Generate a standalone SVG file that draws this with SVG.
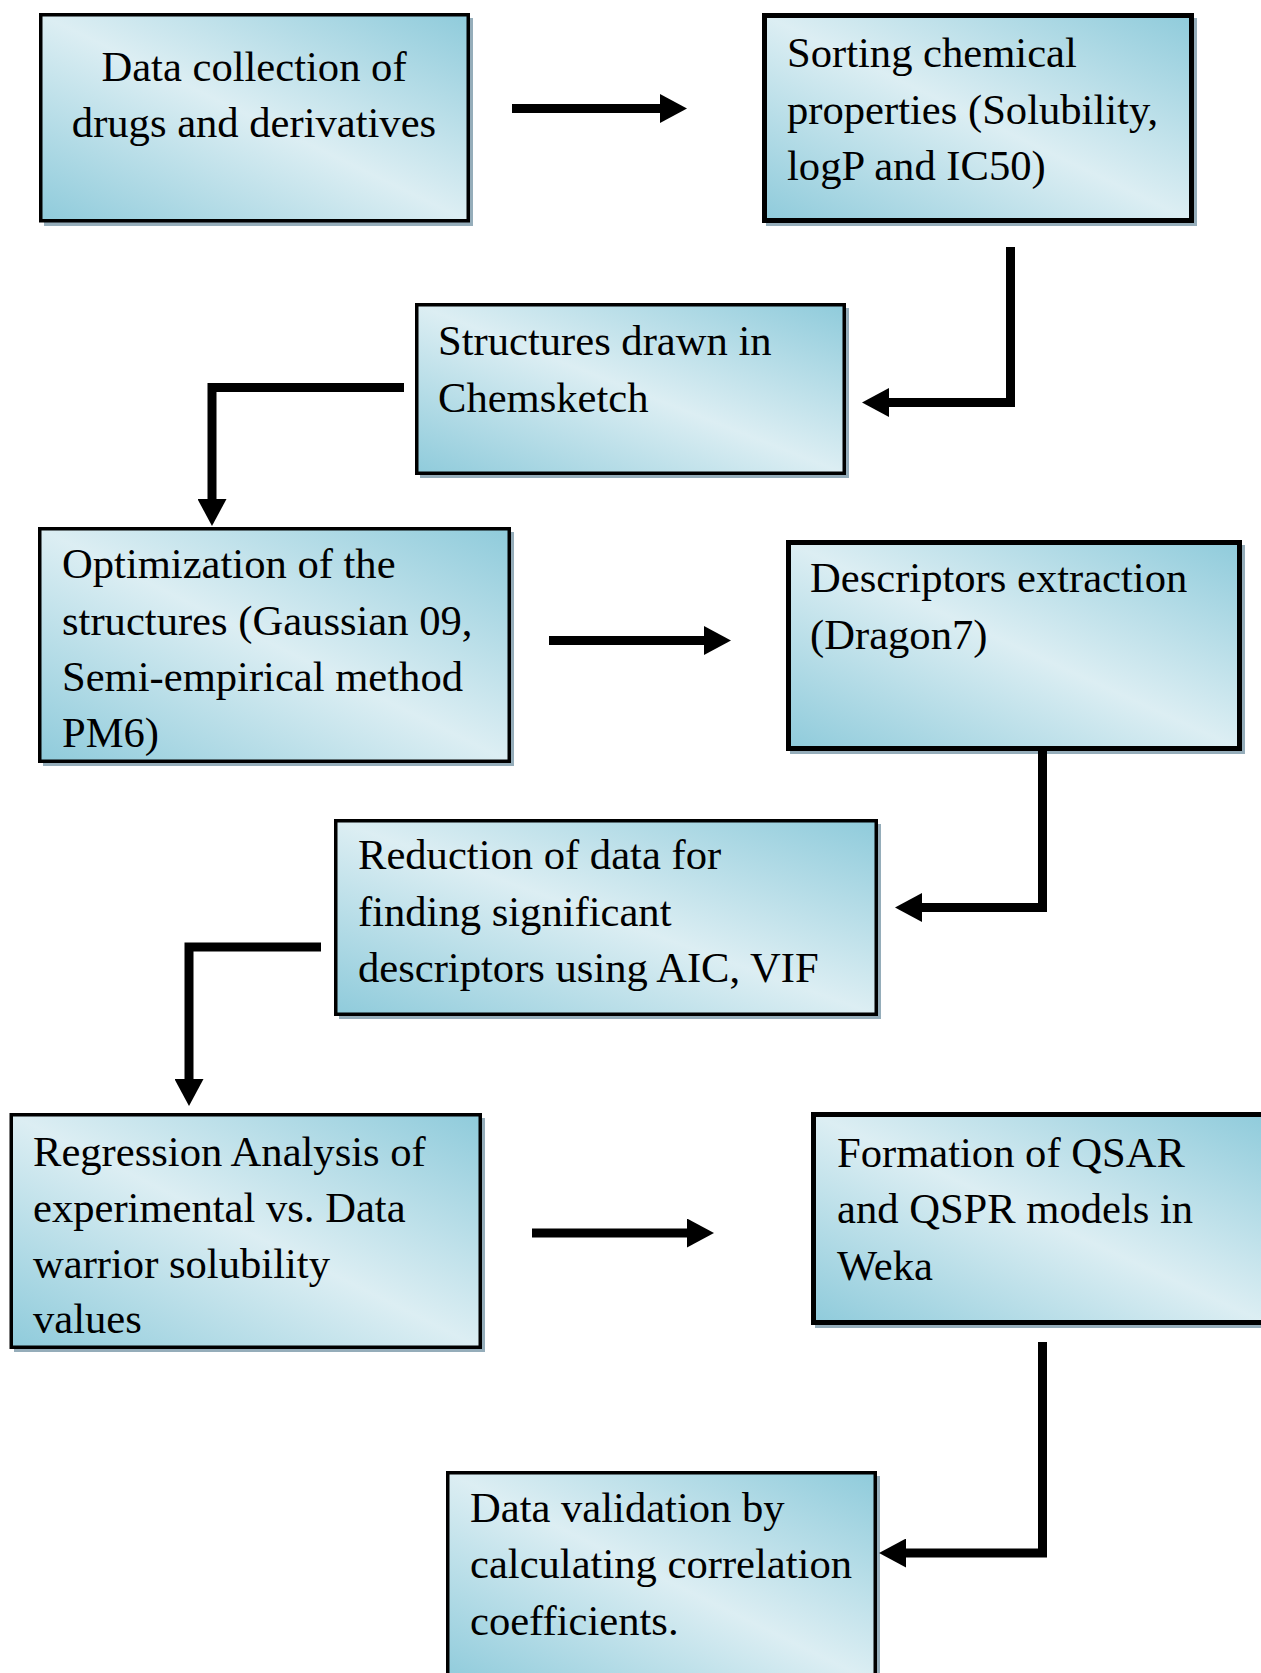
<svg xmlns="http://www.w3.org/2000/svg" width="1261" height="1673" viewBox="0 0 1261 1673">
<defs>
<linearGradient id="g" x1="1" y1="0" x2="0" y2="1">
<stop offset="0" stop-color="#8FCBDB"/>
<stop offset="0.5" stop-color="#DCEEF3"/>
<stop offset="1" stop-color="#8FCBDB"/>
</linearGradient>
<marker id="ah" markerUnits="userSpaceOnUse" markerWidth="28" markerHeight="29" viewBox="0 0 28 29" refX="1" refY="14.5" orient="auto">
<path d="M0,0 L27,14.5 L0,29 Z" fill="#000"/>
</marker>
</defs>
<style>
.box{fill:url(#g);stroke:#000;stroke-width:3.5}
.thick{stroke-width:5}
.sh{fill:#95ADBA}
.t{font-family:"Liberation Serif","Times New Roman",serif;font-size:42.6px;fill:#000}
.c{fill:none;stroke:#000;stroke-width:9;stroke-linejoin:miter;stroke-linecap:butt;marker-end:url(#ah)}
</style>
<rect width="1261" height="1673" fill="#fff"/>
<g id="n1">
<rect class="sh" x="44" y="18" width="429" height="208"/>
<rect class="box" x="40.75" y="14.75" width="427.5" height="206"/>
<text class="t" x="254" y="81" text-anchor="middle">Data collection of</text>
<text class="t" x="254" y="137" text-anchor="middle">drugs and derivatives</text>
</g>
<g id="n2">
<rect class="sh" x="766" y="18" width="431" height="208"/>
<rect class="box thick" x="764.5" y="15.5" width="427" height="205"/>
<text class="t" x="787" y="67">Sorting chemical</text>
<text class="t" x="787" y="124">properties (Solubility,</text>
<text class="t" x="787" y="180">logP and IC50)</text>
</g>
<g id="n3">
<rect class="sh" x="420" y="308" width="429" height="170"/>
<rect class="box" x="416.75" y="304.75" width="427.5" height="168.5"/>
<text class="t" x="438" y="355">Structures drawn in</text>
<text class="t" x="438" y="412">Chemsketch</text>
</g>
<g id="n4">
<rect class="sh" x="43" y="532" width="471" height="234"/>
<rect class="box" x="39.75" y="528.75" width="469.5" height="232.5"/>
<text class="t" x="62" y="578">Optimization of the</text>
<text class="t" x="62" y="635">structures (Gaussian 09,</text>
<text class="t" x="62" y="691">Semi-empirical method</text>
<text class="t" x="62" y="747">PM6)</text>
</g>
<g id="n5">
<rect class="sh" x="790" y="545" width="455" height="209"/>
<rect class="box thick" x="788.5" y="542.5" width="451" height="206"/>
<text class="t" x="810" y="592">Descriptors extraction</text>
<text class="t" x="810" y="649">(Dragon7)</text>
</g>
<g id="n6">
<rect class="sh" x="339" y="824" width="542" height="195"/>
<rect class="box" x="335.75" y="820.75" width="540.5" height="193.5"/>
<text class="t" x="358" y="869">Reduction of data for</text>
<text class="t" x="358" y="926">finding significant</text>
<text class="t" x="358" y="982">descriptors using AIC, VIF</text>
</g>
<g id="n7">
<rect class="sh" x="14" y="1118" width="471" height="234"/>
<rect class="box" x="11.25" y="1114.75" width="469" height="232.5"/>
<text class="t" x="33" y="1166">Regression Analysis of</text>
<text class="t" x="33" y="1222">experimental vs. Data</text>
<text class="t" x="33" y="1278">warrior solubility</text>
<text class="t" x="33" y="1333">values</text>
</g>
<g id="n8">
<rect class="sh" x="815" y="1117" width="460" height="211"/>
<rect class="box thick" x="813.5" y="1114.5" width="452" height="208"/>
<text class="t" x="837" y="1167">Formation of QSAR</text>
<text class="t" x="837" y="1223">and QSPR models in</text>
<text class="t" x="837" y="1280">Weka</text>
</g>
<g id="n9">
<rect class="sh" x="451" y="1476" width="429" height="212"/>
<rect class="box" x="447.75" y="1472.75" width="427.5" height="210"/>
<text class="t" x="470" y="1522">Data validation by</text>
<text class="t" x="470" y="1578">calculating correlation</text>
<text class="t" x="470" y="1635">coefficients.</text>
</g>
<g id="connectors">
<path class="c" d="M512,108.5 H661"/>
<path class="c" d="M1010.5,247 V402.5 H888"/>
<path class="c" d="M404,387.5 H212 V500"/>
<path class="c" d="M549,640.5 H705"/>
<path class="c" d="M1042.5,750 V907.5 H921"/>
<path class="c" d="M321,947 H189 V1080"/>
<path class="c" d="M532,1233 H688"/>
<path class="c" d="M1042.5,1342 V1553 H905"/>
</g>
</svg>
